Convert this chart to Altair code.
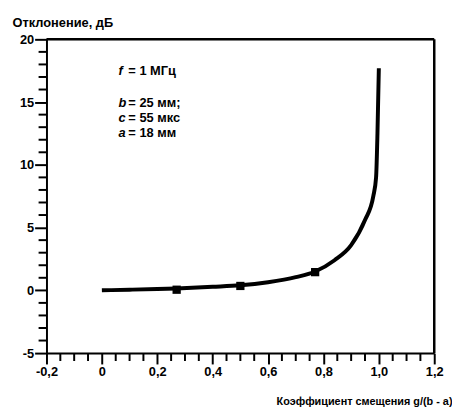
import altair as alt
import pandas as pd

# Curve values
curve_x = [0, 0.1, 0.2, 0.27, 0.4, 0.5, 0.6, 0.7, 0.77, 0.84, 0.9, 0.95, 0.98, 0.99, 0.995, 1.0]
curve_y = [0, 0.05, 0.1, 0.15, 0.28, 0.4, 0.65, 1.05, 1.5, 2.4, 3.6, 5.6, 7.5, 9.0, 12.5, 17.7]

# Measured points (square markers)
pts_x = [0.27, 0.5, 0.77]
pts_y = [0.05, 0.35, 1.45]

# Annotation lines
ann_letters = ["f", "b", "c", "a"]
ann_rest = ["= 1 МГц", "= 25 мм;", "= 55 мкс", "= 18 мм"]
ann_x = [0.06, 0.06, 0.06, 0.06]
ann_y = [17.5, 14.9, 13.7, 12.5]

x_range = [-0.2, 1.2]
y_range = [-5, 20]

x_major = [-0.2, 0, 0.2, 0.4, 0.6, 0.8, 1.0, 1.2]
x_minor = [-0.15, -0.1, -0.05, 0.05, 0.1, 0.15, 0.25, 0.3, 0.35, 0.45, 0.5, 0.55,
           0.65, 0.7, 0.75, 0.85, 0.9, 0.95, 1.05, 1.1, 1.15]
y_major = [-5, 0, 5, 10, 15, 20]
y_minor = [-4, -3, -2, -1, 1, 2, 3, 4, 6, 7, 8, 9, 11, 12, 13, 14, 16, 17, 18, 19]

curve = pd.DataFrame({"x": curve_x, "y": curve_y})
pts = pd.DataFrame({"x": pts_x, "y": pts_y})
ann = pd.DataFrame({"x": ann_x, "y": ann_y, "letter": ann_letters, "rest": ann_rest})
xmin_df = pd.DataFrame({"x": x_minor})
ymin_df = pd.DataFrame({"y": y_minor})
top_df = pd.DataFrame({"x0": [x_range[0]], "x1": [x_range[1]], "y": [y_range[1]]})
right_df = pd.DataFrame({"x": [x_range[1]], "y0": [y_range[0]], "y1": [y_range[1]]})

FONT = "Liberation Sans"
W, H = 393, 318

xscale = alt.Scale(domain=x_range, nice=False, zero=False)
yscale = alt.Scale(domain=y_range, nice=False, zero=False)

label_expr_x = "datum.value == 0 ? '0' : replace(replace(format(datum.value, '.1f'), '.', ','), '\u2212', '-')"

x_axis = alt.Axis(
    values=x_major, labelExpr=label_expr_x, orient="bottom",
    title="Коэффициент смещения g/(b - a)", titleFont=FONT, titleFontSize=11,
    titleFontWeight="bold", titleAnchor="end", titleAlign="right",
    titleX=411, titleY=52, titleBaseline="alphabetic",
    labelFont=FONT, labelFontSize=13, labelFontWeight="bold", labelColor="black",
    tickSize=11, tickWidth=2, tickColor="black", domainColor="black", domainWidth=2,
    grid=False, labelPadding=2, labelFlush=False, labelOverlap=False,
)
y_axis = alt.Axis(
    values=y_major, orient="left",
    labelExpr="datum.value < 0 ? '-' + abs(datum.value) : '' + datum.value",
    title="Отклонение, дБ", titleFont=FONT, titleFontSize=13, titleFontWeight="bold",
    titleAngle=0, titleAlign="left", titleX=-35, titleY=-13, titleBaseline="alphabetic",
    labelFont=FONT, labelFontSize=13, labelFontWeight="bold", labelColor="black",
    tickSize=12, tickWidth=2, tickColor="black", domainColor="black", domainWidth=2,
    grid=False, labelPadding=1, labelFlush=False, labelOverlap=False,
)

X = alt.X("x:Q", scale=xscale, axis=x_axis)
Y = alt.Y("y:Q", scale=yscale, axis=y_axis)

line = alt.Chart(curve).mark_line(color="black", strokeWidth=4, interpolate="monotone").encode(x=X, y=Y)

markers = alt.Chart(pts).mark_square(color="black", size=70, opacity=1).encode(x=X, y=Y)

# minor ticks, positioned through the scales
x_minor_ticks = alt.Chart(xmin_df).mark_rule(color="black", strokeWidth=2).encode(
    x=X, y=alt.value(H), y2=alt.value(H + 8)
)
y_minor_ticks = alt.Chart(ymin_df).mark_rule(color="black", strokeWidth=2).encode(
    y=Y, x=alt.value(0), x2=alt.value(-8)
)

# top and right borders of the frame
top_border = alt.Chart(top_df).mark_rule(color="black", strokeWidth=2.5).encode(
    x=alt.X("x0:Q", scale=xscale, axis=x_axis), x2="x1:Q", y=Y
)
right_border = alt.Chart(right_df).mark_rule(color="black", strokeWidth=2.5).encode(
    x=X, y=alt.Y("y0:Q", scale=yscale, axis=y_axis), y2="y1:Q"
)

letters = alt.Chart(ann).mark_text(
    font=FONT, fontSize=13, fontWeight="bold", fontStyle="italic", align="left",
    baseline="middle", color="black"
).encode(x=X, y=Y, text="letter:N")

rest = alt.Chart(ann).mark_text(
    font=FONT, fontSize=13, fontWeight="bold", align="left", baseline="middle",
    color="black", dx=10
).encode(x=X, y=Y, text="rest:N")

chart = alt.layer(
    line, markers, x_minor_ticks, y_minor_ticks, top_border, right_border, letters, rest
).properties(
    width=W, height=H,
    autosize=alt.AutoSizeParams(type="none"),
    padding={"left": 39, "top": 29, "right": 18, "bottom": 61},
).configure_view(
    stroke="black", strokeWidth=2
).configure(background="white")

chart.save("out.html", embed_options={"renderer": "svg", "actions": False})
